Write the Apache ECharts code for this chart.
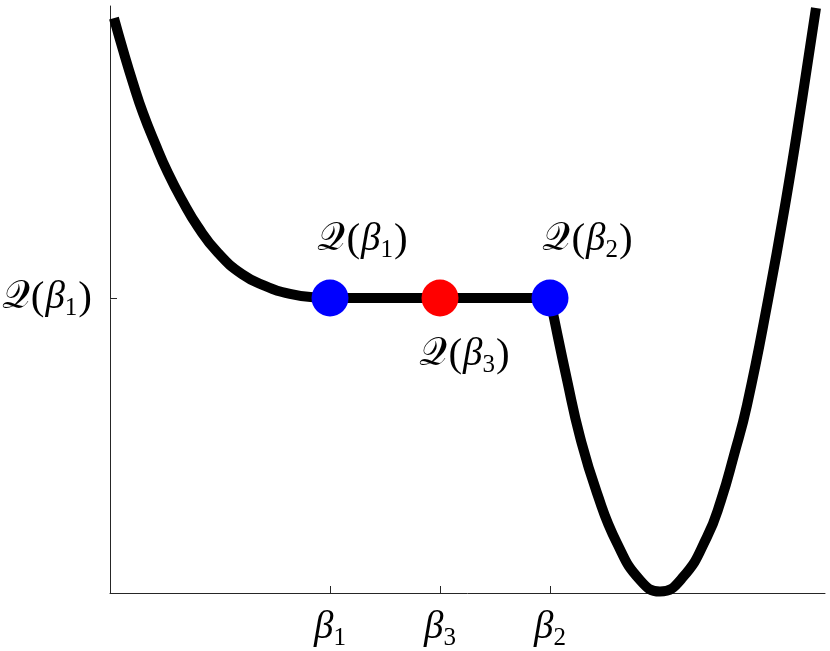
<!DOCTYPE html>
<html>
<head>
<meta charset="utf-8">
<title>Q(beta)</title>
<script src="https://cdn.jsdelivr.net/npm/echarts@6/dist/echarts.min.js"></script>
<style>
    html, body { margin: 0; padding: 0; background: #fff; }
    #chart { width: 830px; height: 651px; }
</style>
</head>
<body>
<div id="chart"></div>
<script>
// curve, left branch (down to the plateau)
const leftX = [0.036, 0.118, 0.209, 0.300, 0.409, 0.527, 0.655, 0.800, 0.982, 1.200, 1.409, 1.636, 1.864, 2.0];
const leftY = [1.949, 1.841, 1.729, 1.627, 1.525, 1.424, 1.332, 1.241, 1.153, 1.081, 1.041, 1.014, 1.002, 1.0];
// plateau between beta1 and beta2
const flatX = [2.0, 4.0];
const flatY = [1.0, 1.0];
// right branch: drop after beta2, valley, steep rise
const rightX = [4.0, 4.027, 4.155, 4.273, 4.427, 4.609, 4.818, 5.0, 5.209, 5.427, 5.555, 5.673, 5.791, 5.982, 6.145, 6.291, 6.418];
const rightY = [1.0, 0.949, 0.722, 0.529, 0.339, 0.169, 0.044, 0.005, 0.054, 0.190, 0.315, 0.468, 0.637, 0.993, 1.332, 1.671, 1.983];

// the three marked points
const pointX = [2, 3, 4];
const pointY = [1, 1, 1];
const pointSub = ['1', '3', '2'];
const pointColor = ['#0000ff', '#ff0000', '#0000ff'];

// ticks
const xTicks = [2, 3, 4];
const xTickSub = ['1', '3', '2'];
const yTicks = [1];
const yTickSub = ['1'];

const Q = '\u{1D4AC}';

const pairs = (xs, ys) => xs.map((x, i) => [x, ys[i]]);
const qText = sub => '{q|' + Q + '}{p|(}{b|β}{s|' + sub + '}{p|)}';

const richBig = {
    q: { fontFamily: 'DejaVu Serif', fontSize: 39, lineHeight: 46, color: '#000' },
    p: { fontFamily: 'Liberation Serif', fontSize: 41, lineHeight: 46, padding: [0, 1, 0, 1], color: '#000' },
    b: { fontFamily: 'Liberation Serif', fontStyle: 'italic', fontSize: 39, lineHeight: 46, color: '#000' },
    s: { fontFamily: 'Liberation Serif', fontSize: 25, lineHeight: 26, verticalAlign: 'bottom', color: '#000' }
};

const chartDom = document.getElementById('chart');
const myChart = echarts.init(chartDom);

// label above for the blue points, below for the red one
const labelPos = [[33, -58], [25, 57], [38, -58]];

const lineStyle = { color: '#000', width: 10 };

const option = {
    animation: false,
    grid: {
        left: 110,
        right: 5,
        top: 6,
        bottom: 58,
        outerBoundsMode: 'none'
    },
    xAxis: {
        type: 'value',
        min: 0,
        max: 6.5,
        interval: 1,
        splitLine: { show: false },
        axisLine: { lineStyle: { color: '#262626', width: 1 } },
        axisTick: {
            inside: true,
            length: 7,
            customValues: xTicks,
            lineStyle: { color: '#262626' }
        },
        axisLabel: {
            customValues: xTicks,
            margin: 12,
            formatter: v => '{b|β}{s|' + xTickSub[xTicks.indexOf(v)] + '}',
            rich: richBig
        }
    },
    yAxis: {
        type: 'value',
        min: 0,
        max: 1.99,
        interval: 1,
        splitLine: { show: false },
        axisLine: { show: true, lineStyle: { color: '#262626', width: 1 } },
        axisTick: {
            show: true,
            inside: true,
            length: 7,
            customValues: yTicks,
            lineStyle: { color: '#262626' }
        },
        axisLabel: {
            customValues: yTicks,
            margin: 17,
            formatter: v => qText(yTickSub[yTicks.indexOf(v)]),
            rich: richBig
        }
    },
    series: [
        {
            type: 'line',
            data: pairs(leftX, leftY),
            smooth: 0.5,
            symbol: 'none',
            clip: false,
            lineStyle: lineStyle
        },
        {
            type: 'line',
            data: pairs(flatX, flatY),
            symbol: 'none',
            clip: false,
            lineStyle: lineStyle
        },
        {
            type: 'line',
            data: pairs(rightX, rightY),
            smooth: 0.5,
            symbol: 'none',
            clip: false,
            lineStyle: lineStyle
        },
        {
            type: 'scatter',
            symbolSize: 37,
            z: 5,
            data: pointX.map((x, i) => ({
                value: [x, pointY[i]],
                itemStyle: { color: pointColor[i], opacity: 1 },
                label: {
                    show: true,
                    position: 'inside',
                    offset: labelPos[i],
                    formatter: qText(pointSub[i]),
                    rich: richBig
                }
            }))
        }
    ]
};
myChart.setOption(option);
</script>
</body>
</html>
